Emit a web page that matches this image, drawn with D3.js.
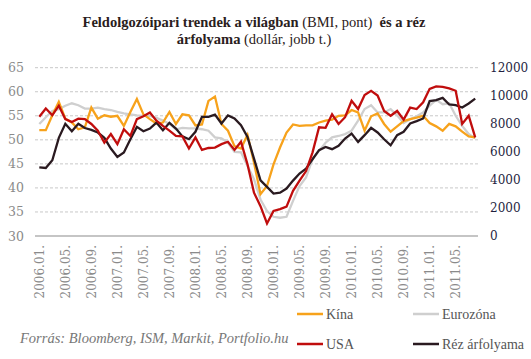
<!DOCTYPE html>
<html>
<head>
<meta charset="utf-8">
<script src="https://cdn.jsdelivr.net/npm/d3@7"></script>
<style>
  body { margin: 0; background: #fff; }
</style>
</head>
<body>
<div id="chart"></div>
<script>
// havi adatok, 2006.01 - 2011.08
const kina = [52.0, 52.0, 55.1, 57.9, 54.4, 53.6, 52.2, 52.6, 56.7, 54.4, 55.1, 54.8,
  55.0, 52.9, 55.8, 58.5, 55.3, 54.3, 53.4, 53.6, 55.8, 53.3, 55.3, 55.1,
  53.0, 53.2, 58.1, 59.0, 53.3, 51.9, 48.7, 48.2, 51.0, 45.3, 38.7, 40.4,
  44.9, 48.4, 51.5, 53.2, 52.9, 53.0, 53.0, 53.6, 54.0, 54.2, 55.0, 55.1,
  56.2, 55.7, 51.9, 54.9, 55.5, 53.3, 51.7, 52.8, 53.9, 54.3, 54.6, 55.0,
  53.5, 52.8, 51.9, 53.3, 52.8, 51.7, 50.7, 50.5];
const eurozona = [53.3, 54.7, 56.0, 56.4, 57.1, 57.6, 57.2, 56.5, 56.5, 56.7, 56.4, 56.2,
  55.8, 55.5, 55.3, 55.1, 55.0, 55.0, 54.6, 54.0, 53.3, 52.2, 52.5, 52.4,
  52.4, 52.2, 51.9, 50.5, 50.3, 49.4, 47.5, 47.4, 44.6, 41.8, 37.6, 35.2,
  34.0, 33.8, 34.0, 37.3, 40.4, 42.2, 46.0, 47.7, 49.4, 50.5, 50.8, 51.2,
  51.9, 54.0, 56.4, 57.2, 55.7, 55.7, 56.4, 55.1, 53.5, 54.3, 54.9, 55.7,
  57.1, 58.3, 57.4, 57.6, 55.0, 52.9, 51.2, 50.3];
const usa = [54.8, 56.5, 55.1, 57.1, 54.3, 53.7, 54.4, 54.3, 53.3, 51.9, 49.4, 51.2,
  49.1, 52.2, 50.8, 54.3, 54.9, 55.7, 54.0, 52.9, 51.9, 50.8, 50.7, 48.2,
  50.5, 47.9, 48.3, 48.4, 49.1, 49.6, 47.9, 49.6, 44.9, 39.0, 36.2, 32.6,
  35.2, 35.6, 36.1, 39.4, 41.5, 43.5, 47.4, 52.6, 52.5, 55.3, 53.3, 54.7,
  58.1, 56.4, 59.3, 60.2, 59.2, 56.0, 55.0, 56.0, 54.2, 56.7, 56.4, 57.8,
  60.6, 61.1, 61.0, 60.7, 60.2, 53.3, 55.0, 50.5];
const rez = [4900, 4850, 5400, 7000, 8000, 7470, 8000, 7700, 7570, 7380, 7000, 6240,
  5640, 5950, 6900, 7780, 7470, 7660, 8090, 7540, 8070, 7660, 7100, 6900,
  7430, 8500, 8500, 8660, 8020, 8600, 8380, 7900, 7070, 5520, 3970, 3500,
  3020, 3090, 3380, 3950, 4450, 4810, 5470, 6120, 6350, 6190, 6430, 6950,
  7300, 6710, 7190, 7710, 7380, 6900, 6470, 7190, 7430, 8020, 8190, 8380,
  9620, 9690, 9850, 9380, 9330, 9160, 9450, 9800];

const tickLabels = ["2006.01.", "2006.05.", "2006.09.", "2007.01.", "2007.05.", "2007.09.",
  "2008.01.", "2008.05.", "2008.09.", "2009.01.", "2009.05.", "2009.09.",
  "2010.01.", "2010.05.", "2010.09.", "2011.01.", "2011.05."];
const leftTicks = [30, 35, 40, 45, 50, 55, 60, 65];
const rightTicks = [0, 2000, 4000, 6000, 8000, 10000, 12000];

const W = 531, H = 359;
const TOP = 67.7, BOTTOM = 236;

const svg = d3.select("#chart").append("svg")
  .attr("width", W)
  .attr("height", H);

const x = d3.scaleLinear().domain([0, kina.length - 1]).range([39.3, 475.2]);
const yL = d3.scaleLinear().domain([30, 65]).range([BOTTOM, TOP]);
const yR = d3.scaleLinear().domain([0, 12000]).range([BOTTOM, TOP]);

// rács
svg.append("g").selectAll("line")
  .data(leftTicks.filter(d => d > 30))
  .enter().append("line")
  .attr("x1", 35).attr("x2", 478)
  .attr("y1", d => yL(d)).attr("y2", d => yL(d))
  .attr("stroke", "#c8c8c8")
  .attr("stroke-dasharray", "3,2");

svg.append("line")
  .attr("x1", 35).attr("x2", 478)
  .attr("y1", BOTTOM).attr("y2", BOTTOM)
  .attr("stroke", "#8c8c8c").attr("stroke-width", 1.2);

const tickFont = "'DejaVu Serif', serif";

// bal tengely
const leftAxis = svg.append("g")
  .attr("transform", "translate(24,0)")
  .call(d3.axisLeft(yL).tickValues(leftTicks).tickSize(0).tickPadding(0));
leftAxis.select(".domain").remove();
leftAxis.selectAll("text")
  .attr("fill", "#8a8a8a")
  .style("font-family", tickFont)
  .style("font-size", "12.5px");

// jobb tengely
const rightAxis = svg.append("g")
  .attr("transform", "translate(490,0)")
  .call(d3.axisRight(yR).tickValues(rightTicks).tickFormat(d3.format("d"))
    .tickSize(0).tickPadding(0));
rightAxis.select(".domain").remove();
rightAxis.selectAll("text")
  .attr("fill", "#1f1f3f")
  .style("font-family", tickFont)
  .style("font-size", "12px");

// x tengely
const xAxis = svg.append("g")
  .attr("transform", `translate(0,${BOTTOM})`)
  .call(d3.axisBottom(x)
    .tickValues(d3.range(0, 65, 4))
    .tickFormat((d, i) => tickLabels[i])
    .tickSize(0));
xAxis.select(".domain").remove();
xAxis.selectAll("text")
  .attr("transform", "rotate(-90)")
  .attr("x", -9)
  .attr("y", 0)
  .attr("dy", "0.35em")
  .attr("text-anchor", "end")
  .attr("fill", "#8a8a8a")
  .style("font-family", tickFont)
  .style("font-size", "12px");

// vonalak
const lineL = d3.line().x((d, i) => x(i)).y(d => yL(d));
const lineR = d3.line().x((d, i) => x(i)).y(d => yR(d));

const series = [
  { data: eurozona, color: "#cfcfcf", gen: lineL },
  { data: kina, color: "#f7a21b", gen: lineL },
  { data: rez, color: "#2a1a20", gen: lineR },
  { data: usa, color: "#c00d0d", gen: lineL }
];

svg.append("g").selectAll("path")
  .data(series)
  .enter().append("path")
  .attr("d", d => d.gen(d.data))
  .attr("fill", "none")
  .attr("stroke", d => d.color)
  .attr("stroke-width", 2.3)
  .attr("stroke-linejoin", "miter");

// cím
const title = svg.append("text")
  .attr("text-anchor", "middle")
  .attr("fill", "#2a2020")
  .style("font-family", "'Liberation Serif', serif")
  .style("font-size", "14.5px")
  .style("white-space", "pre");
const t1 = title.append("tspan").attr("x", 254).attr("y", 27);
t1.append("tspan").attr("font-weight", "bold").text("Feldolgozóipari trendek a világban");
t1.append("tspan").text(" (BMI, pont) ");
t1.append("tspan").attr("font-weight", "bold").text(" és a réz");
const t2 = title.append("tspan").attr("x", 254).attr("y", 44);
t2.append("tspan").attr("font-weight", "bold").text("árfolyama");
t2.append("tspan").text(" (dollár, jobb t.)");

// forrás
svg.append("text")
  .attr("x", 20).attr("y", 343)
  .attr("fill", "#777")
  .style("font-family", "'Liberation Serif', serif")
  .style("font-style", "italic")
  .style("font-size", "14.5px")
  .text("Forrás: Bloomberg, ISM, Markit, Portfolio.hu");

// jelmagyarázat
const legendItems = [
  { name: "Kína", color: "#f7a21b", lx: 297, ly: 314 },
  { name: "Eurozóna", color: "#cfcfcf", lx: 413, ly: 314 },
  { name: "USA", color: "#c00d0d", lx: 297, ly: 344 },
  { name: "Réz árfolyama", color: "#2a1a20", lx: 413, ly: 344 }
];
const legend = svg.append("g").selectAll("g")
  .data(legendItems)
  .enter().append("g")
  .attr("transform", d => `translate(${d.lx},${d.ly})`);
legend.append("line")
  .attr("x1", 0).attr("x2", 26)
  .attr("stroke", d => d.color)
  .attr("stroke-width", 2.5);
legend.append("text")
  .attr("x", 29).attr("dy", "0.35em")
  .attr("fill", "#555")
  .style("font-family", "'Liberation Serif', serif")
  .style("font-size", "14px")
  .text(d => d.name);
</script>
</body>
</html>
